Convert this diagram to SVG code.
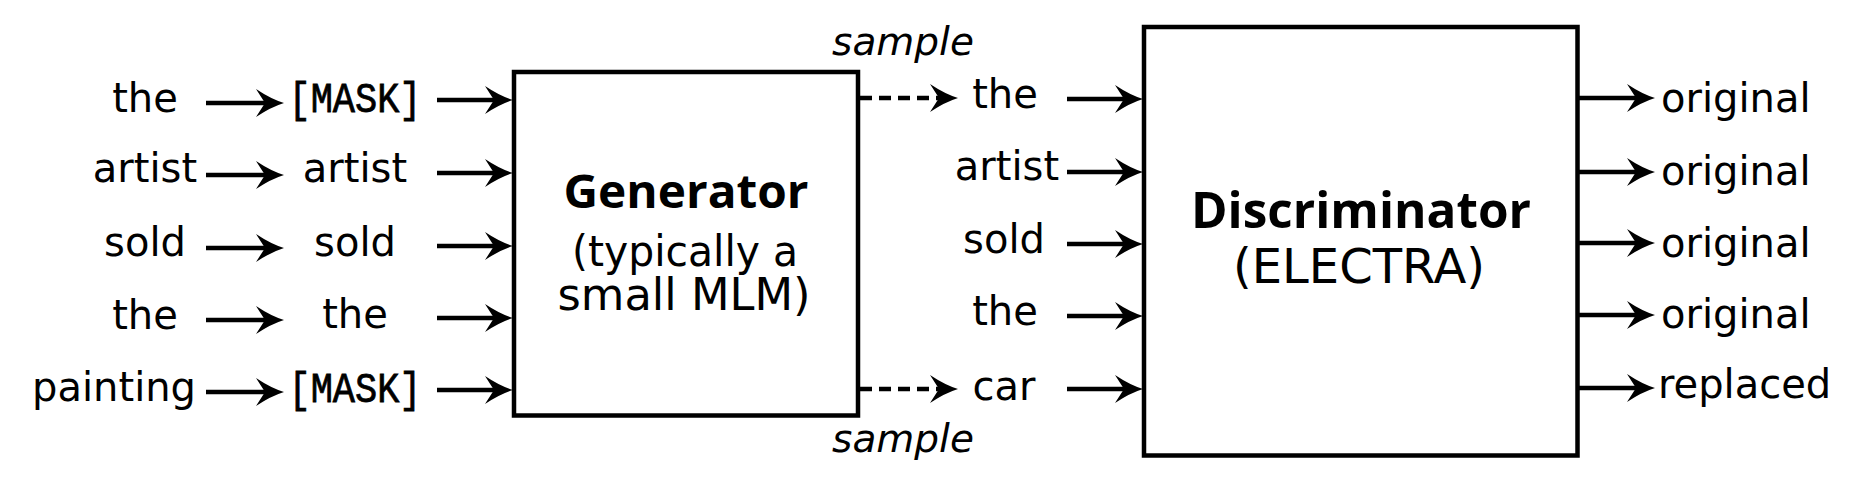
<svg xmlns="http://www.w3.org/2000/svg" width="1868" height="478" viewBox="0 0 1868 478">
<style>
.w{font-family:"DejaVu Sans",sans-serif;font-size:40px;fill:#000}
.m{font-family:"Liberation Mono",monospace;font-size:42px;fill:#000;stroke:#000;stroke-width:0.8}
.it{font-family:"DejaVu Sans",sans-serif;font-size:39px;font-style:italic;fill:#000}
.b{font-family:"Open Sans","DejaVu Sans",sans-serif;font-weight:bold;fill:#000}
.r{font-family:"DejaVu Sans",sans-serif;fill:#000}
.box{fill:#fff;stroke:#000;stroke-width:4.5}
.a{stroke:#000;stroke-width:4.5;fill:none;marker-end:url(#ah)}
.d{stroke-dasharray:12 7}
</style>
<defs>
<marker id="ah" viewBox="0 0 28 28" markerWidth="28" markerHeight="28" refX="13" refY="14" orient="auto" markerUnits="userSpaceOnUse" overflow="visible">
<path d="M28,14 Q15,10 0,0 L9,14 L0,28 Q15,18 28,14 Z" fill="#000"/>
</marker>
</defs>
<rect width="1868" height="478" fill="#fff"/>

<g id="connectors">
<line class="a" x1="206" y1="103" x2="269" y2="103"/>
<line class="a" x1="206" y1="175" x2="269" y2="175"/>
<line class="a" x1="206" y1="248" x2="269" y2="248"/>
<line class="a" x1="206" y1="320" x2="269" y2="320"/>
<line class="a" x1="206" y1="392" x2="269" y2="392"/>
<line class="a" x1="437" y1="100" x2="498" y2="100"/>
<line class="a" x1="437" y1="173" x2="498" y2="173"/>
<line class="a" x1="437" y1="246" x2="498" y2="246"/>
<line class="a" x1="437" y1="318" x2="498" y2="318"/>
<line class="a" x1="437" y1="390" x2="498" y2="390"/>
<line class="a d" x1="860" y1="98" x2="943" y2="98"/>
<line class="a d" x1="860" y1="389" x2="943" y2="389"/>
<line class="a" x1="1067" y1="99" x2="1128" y2="99"/>
<line class="a" x1="1067" y1="172" x2="1128" y2="172"/>
<line class="a" x1="1067" y1="244" x2="1128" y2="244"/>
<line class="a" x1="1067" y1="316" x2="1128" y2="316"/>
<line class="a" x1="1067" y1="389" x2="1128" y2="389"/>
<line class="a" x1="1578" y1="98" x2="1640" y2="98"/>
<line class="a" x1="1578" y1="172" x2="1640" y2="172"/>
<line class="a" x1="1578" y1="243" x2="1640" y2="243"/>
<line class="a" x1="1578" y1="315" x2="1640" y2="315"/>
<line class="a" x1="1578" y1="388" x2="1640" y2="388"/>
</g>

<g id="input-tokens">
<text id="in1" class="w" x="145" y="112" text-anchor="middle">the</text>
<text id="in2" class="w" x="145" y="182" text-anchor="middle">artist</text>
<text id="in3" class="w" x="145" y="256" text-anchor="middle">sold</text>
<text id="in4" class="w" x="145" y="329" text-anchor="middle">the</text>
<text id="in5" class="w" x="196" y="401" text-anchor="end">painting</text>
</g>

<g id="masked-tokens">
<text id="mk1" class="m" x="355" y="112" text-anchor="middle" textLength="133" lengthAdjust="spacingAndGlyphs">[MASK]</text>
<text id="mk2" class="w" x="355" y="182" text-anchor="middle">artist</text>
<text id="mk3" class="w" x="355" y="256" text-anchor="middle">sold</text>
<text id="mk4" class="w" x="355" y="328" text-anchor="middle">the</text>
<text id="mk5" class="m" x="355" y="402" text-anchor="middle" textLength="133" lengthAdjust="spacingAndGlyphs">[MASK]</text>
</g>

<g id="generator">
<rect class="box" x="514" y="72" width="344" height="343.5"/>
<text class="b" x="686" y="208" font-size="47" text-anchor="middle" textLength="245" lengthAdjust="spacingAndGlyphs">Generator</text>
<text class="r" x="685" y="266" font-size="43" text-anchor="middle" textLength="226" lengthAdjust="spacingAndGlyphs">(typically a</text>
<text class="r" x="684" y="310" font-size="44" text-anchor="middle" textLength="253" lengthAdjust="spacingAndGlyphs">small MLM)</text>
</g>

<g id="sample-labels">
<text id="sample-top" class="it" x="903" y="55" text-anchor="middle">sample</text>
<text id="sample-bottom" class="it" x="903" y="452" text-anchor="middle">sample</text>
</g>

<g id="sampled-tokens">
<text id="sp1" class="w" x="1005" y="108" text-anchor="middle">the</text>
<text id="sp2" class="w" x="1007" y="180" text-anchor="middle">artist</text>
<text id="sp3" class="w" x="1004" y="253" text-anchor="middle">sold</text>
<text id="sp4" class="w" x="1005" y="325" text-anchor="middle">the</text>
<text id="sp5" class="w" x="1004" y="400" text-anchor="middle">car</text>
</g>

<g id="discriminator">
<rect class="box" x="1144" y="27" width="433.5" height="428.5"/>
<text class="b" x="1361" y="228" font-size="50" text-anchor="middle" textLength="340" lengthAdjust="spacingAndGlyphs">Discriminator</text>
<text class="r" x="1359" y="283" font-size="48" text-anchor="middle">(ELECTRA)</text>
</g>

<g id="outputs">
<text id="o1" class="w" x="1661" y="112">original</text>
<text id="o2" class="w" x="1661" y="185">original</text>
<text id="o3" class="w" x="1661" y="257">original</text>
<text id="o4" class="w" x="1661" y="328">original</text>
<text id="o5" class="w" x="1658" y="398">replaced</text>
</g>
</svg>
